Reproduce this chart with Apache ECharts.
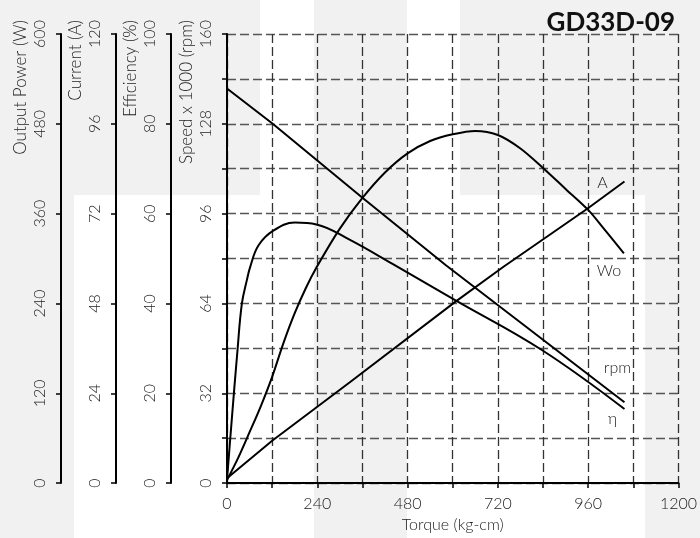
<!DOCTYPE html>
<html><head><meta charset="utf-8">
<script src="https://cdn.jsdelivr.net/npm/echarts@6/dist/echarts.min.js"></script>
<style>html,body{margin:0;padding:0;background:#f1f1f1}#c{width:700px;height:538px}</style>
</head><body><div id="c"></div>
<script>
// ---- data ----
const torqueTickLabels = [0, 240, 480, 720, 960, 1200];
const speedTickLabels = [0, 32, 64, 96, 128, 160];

const speedTorque = [0, 121.5, 360.8, 581.9, 1056.5];
const speedValues = [140.6, 128.0, 101.6, 77.6, 28.8];

const currentTorque = [0, 120, 325.7, 607.5, 735, 957.7, 1056.5];
const currentValues = [1.3, 11.3, 26.9, 48.5, 57.8, 73.3, 80.6];

const powerTorque = [0, 30, 60, 90, 120, 150, 180, 210, 240, 300, 360, 420, 480, 540, 600, 660, 720, 780, 840, 900, 960, 1000, 1055];
const powerValues = [4, 34, 68, 103, 142, 187, 227, 261, 290, 340, 381, 415, 440.5, 457, 466, 470.5, 465, 447, 421, 393, 365, 341, 307];

const effTorque = [0, 11.4, 28, 39.6, 52.8, 61.5, 83.5, 123, 180.4, 237.7, 325.7, 440, 607.5, 836, 1056.5];
const effValues = [0.7, 12.8, 29.7, 40.0, 45.2, 48.1, 52.9, 56.2, 58.0, 57.6, 54.2, 48.8, 40.7, 29.7, 16.5];

const zip = (xs, ys) => xs.map((x, i) => [x, ys[i]]);
const FONT = 'Lato';
const FW = 300;
const FS = 16;
const TXT = '#222';

function yAxis(offset, max, interval, name, labelFmt) {
  return {
    type: 'value', position: 'left', offset: offset,
    min: 0, max: max, interval: interval,
    name: name, nameLocation: 'end', nameRotate: 90, nameGap: 14,
    nameTextStyle: { align: 'right', verticalAlign: 'bottom', padding: [0, 0, 32, 0], fontSize: 17, fontWeight: FW, color: TXT, fontFamily: FONT },
    axisLine: { show: true, lineStyle: { color: '#000', width: 2 } },
    axisTick: { show: true, inside: false, length: 5, lineStyle: { color: '#000', width: 1.5 } },
    axisLabel: { rotate: 90, margin: 13, fontSize: FS, fontWeight: FW, color: TXT, fontFamily: FONT, formatter: labelFmt },
    splitLine: { show: false }
  };
}

const speedAxis = yAxis(0, 160, 16, 'Speed x 1000 (rpm)', v => speedTickLabels.includes(v) ? String(v) : '');
speedAxis.splitLine = { show: true, lineStyle: { type: [9, 4], color: '#555', width: 1.3 } };

function lineSeries(name, data, yIdx, smooth, lbl, off) {
  return {
    name: name, type: 'line', data: data, yAxisIndex: yIdx,
    showSymbol: false, symbol: 'none', smooth: smooth,
    lineStyle: { color: '#000', width: 2 },
    endLabel: { show: true, formatter: lbl, distance: 0, offset: off, align: 'center', verticalAlign: 'middle', fontSize: FS, fontWeight: FW, color: TXT, fontFamily: FONT },
    z: 5
  };
}

const chart = echarts.init(document.getElementById('c'), null, { renderer: 'canvas' });
chart.setOption({
  animation: false,
  backgroundColor: '#f1f1f1',
  title: { text: 'GD33D-09', right: 20, top: 5, textStyle: { fontSize: 26, fontWeight: 'bold', color: '#111', fontFamily: FONT } },
  graphic: [
    { type: 'rect', z: -100, shape: { x: 74, y: 195, width: 240, height: 343 }, style: { fill: '#fff' } },
    { type: 'rect', z: -100, shape: { x: 260, y: 0, width: 54, height: 195 }, style: { fill: '#fff' } },
    { type: 'rect', z: -100, shape: { x: 407, y: 0, width: 53, height: 538 }, style: { fill: '#fff' } },
    { type: 'rect', z: -100, shape: { x: 460, y: 195, width: 185, height: 343 }, style: { fill: '#fff' } }
  ],
  grid: { left: 227, right: 19, top: 34, bottom: 50, containLabel: false },
  xAxis: {
    type: 'value', min: 0, max: 1200, interval: 120,
    name: 'Torque (kg-cm)', nameLocation: 'middle', nameGap: 30,
    nameTextStyle: { fontSize: FS, fontWeight: FW, color: TXT, fontFamily: FONT },
    axisLine: { show: true, lineStyle: { color: '#000', width: 2 } },
    axisTick: { show: true, length: 5, lineStyle: { color: '#000', width: 1.5 } },
    axisLabel: { margin: 13, fontSize: FS, fontWeight: FW, color: TXT, fontFamily: FONT, formatter: v => torqueTickLabels.includes(v) ? String(v) : '' },
    splitLine: { show: true, lineStyle: { type: [9, 4], color: '#333', width: 1.3 } }
  },
  yAxis: [
    speedAxis,
    yAxis(56, 100, 20, 'Efficiency (%)', v => String(v)),
    yAxis(111, 120, 24, 'Current (A)', v => String(v)),
    yAxis(166, 600, 120, 'Output Power (W)', v => String(v))
  ],
  series: [
    lineSeries('rpm', zip(speedTorque, speedValues), 0, false, 'rpm', [-7, -34]),
    lineSeries('η', zip(effTorque, effValues), 1, 0.4, 'η', [-12, 10]),
    lineSeries('A', zip(currentTorque, currentValues), 2, false, 'A', [-22, 1]),
    lineSeries('Wo', zip(powerTorque, powerValues), 3, 0.3, 'Wo', [-15, 18])
  ]
});
</script></body></html>
